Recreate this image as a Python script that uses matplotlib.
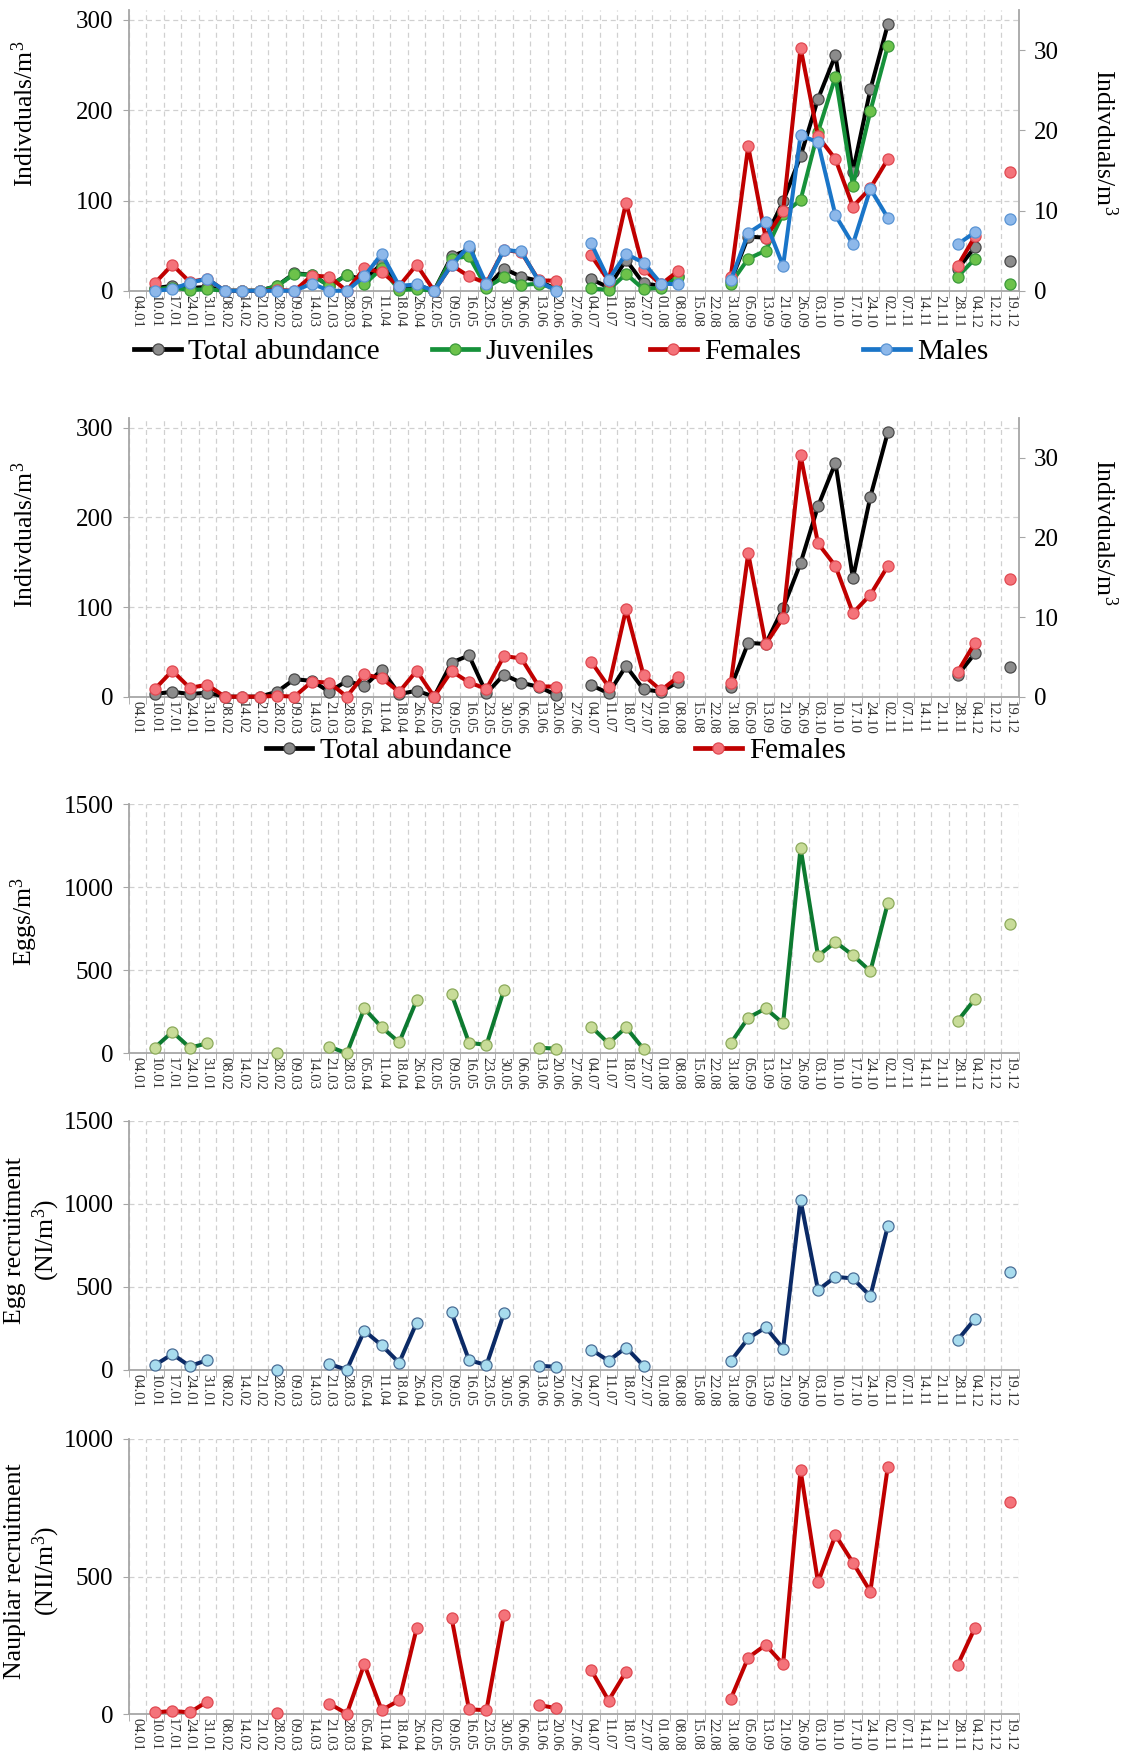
import numpy as np
import matplotlib
matplotlib.use('Agg')
import matplotlib.pyplot as plt
from matplotlib.lines import Line2D
from matplotlib.ticker import FixedLocator

plt.rcParams['font.family'] = ['Liberation Serif', 'DejaVu Serif']
plt.rcParams['mathtext.fontset'] = 'custom'
plt.rcParams['mathtext.rm'] = 'Liberation Serif'
plt.rcParams['mathtext.it'] = 'Liberation Serif:italic'

N = np.nan
dates = ["04.01", "10.01", "17.01", "24.01", "31.01", "08.02", "14.02", "21.02", "28.02",
         "09.03", "14.03", "21.03", "28.03", "05.04", "11.04", "18.04", "26.04", "02.05",
         "09.05", "16.05", "23.05", "30.05", "06.06", "13.06", "20.06", "27.06", "04.07",
         "11.07", "18.07", "27.07", "01.08", "08.08", "15.08", "22.08", "31.08", "05.09",
         "13.09", "21.09", "26.09", "03.10", "10.10", "17.10", "24.10", "02.11", "07.11",
         "14.11", "21.11", "28.11", "04.12", "12.12", "19.12"]

# Individuals/m3 (left axis)
total = [N, 2.9, 5.5, 2.9, 4.4, 0, 0, 0, 5.5, 19.5, 17.6, 5.5, 17.6, 11.8, 30, 2.9, 6.6, 0,
         38, 46, 3.7, 24.6, 15.4, 11, 1.8, N, 12.9, 3.7, 34.2, 8.1, 5.5, 16.5, N, N,
         10.3, 60, 58.8, 99, 149, 212.5, 261, 132, 223, 295, N, N, N, 24, 48.5, N, 33]
# Individuals/m3 (right axis)
juveniles = [N, 0.2, 0.4, 0.1, 0.2, 0, 0, 0, 0.6, 2.1, 1.95, 0.6, 1.95, 0.8, 2.8, 0.1, 0.2, 0,
             4.0, 4.3, 0.4, 1.7, 0.7, 0.9, 0.2, N, 0.3, 0.1, 2.1, 0.2, 0.4, 1.7, N, N,
             0.9, 4.0, 5.0, 9.6, 11.3, 19.8, 26.7, 13.1, 22.4, 30.5, N, N, N, 1.75, 4.0, N, 0.9]
females = [N, 0.96, 3.25, 1.1, 1.5, 0, 0, 0, 0.1, 0, 1.9, 1.75, 0, 2.8, 2.3, 0.6, 3.25, 0,
           3.2, 1.8, 0.96, 5.1, 4.8, 1.3, 1.25, N, 4.4, 1.25, 11.0, 2.7, 0.8, 2.5, N, N,
           1.7, 18.0, 6.6, 9.9, 30.3, 19.25, 16.4, 10.5, 12.8, 16.4, N, N, N, 3.1, 6.8, N, 14.8]
males = [N, 0, 0.2, 1.0, 1.5, 0, 0, 0, 0, 0, 0.9, 0, 0, 1.8, 4.6, 0.6, 0.8, 0,
         3.2, 5.6, 0.8, 5.1, 4.9, 1.2, 0, N, 5.9, 1.4, 4.6, 3.5, 0.9, 0.8, N, N,
         1.3, 7.2, 8.6, 3.1, 19.4, 18.5, 9.4, 5.8, 12.7, 9.1, N, N, N, 5.8, 7.3, N, 8.9]
eggs = [N, 34, 130, 34, 60, N, N, N, 0, N, N, 40, 0, 270, 156, 66, 320, N,
        356, 64, 50, 380, N, 34, 28, N, 160, 60, 156, 26, N, N, N, N,
        60, 214, 270, 180, 1236, 586, 670, 590, 494, 904, N, N, N, 194, 328, N, 776]
egg_recr = [N, 28, 94, 22, 58, N, N, N, 0, N, N, 34, 0, 235, 147, 42, 283, N,
            345, 58, 28, 339, N, 24, 18, N, 122, 54, 134, 24, N, N, N, N,
            52, 189, 255, 128, 1022, 480, 560, 550, 444, 865, N, N, N, 179, 307, N, 588]
naup_recr = [N, 7, 12, 7, 46, N, N, N, 4, N, N, 39, 2, 182, 15, 51, 312, N,
             351, 18, 15, 361, N, 34, 22, N, 161, 50, 155, N, N, N, N, N,
             56, 206, 252, 182, 887, 479, 651, 551, 446, 900, N, N, N, 179, 315, N, 770]

x = np.arange(len(dates))

styles = {
    'total': dict(color='#000000', mfc='#8c8c8c', mec='#4a4a4a'),
    'juv': dict(color='#16913a', mfc='#6cc24a', mec='#3c9a3c'),
    'fem': dict(color='#c00000', mfc='#f4737a', mec='#e04a52'),
    'male': dict(color='#1a75c8', mfc='#8db8ea', mec='#5a94d4'),
    'eggs': dict(color='#0d7a30', mfc='#c8dc98', mec='#8caa5c'),
    'eggr': dict(color='#0b2a66', mfc='#a8dcee', mec='#4a6e96'),
    'naup': dict(color='#c00000', mfc='#f4737a', mec='#e04a52'),
}
LW = 2.9
MS = 8
MEW = 0.9
SPINE = '#a6a6a6'
GRID = '#d0d0d0'
TICKFS = 18
LABFS = 18.5

fig = plt.figure(figsize=(11.31, 17.57), dpi=100)
L, W = 0.1138, 0.7869
boxes = [(0.8345, 0.1598), (0.6035, 0.1586), (0.4005, 0.1419), (0.2204, 0.1417), (0.0243, 0.1567)]


def base_axes(box, ymax, yticks):
    ax = fig.add_axes([L, box[0], W, box[1]])
    ax.set_xlim(-0.5, 50.5)
    ax.set_ylim(0, ymax)
    ax.set_yticks(yticks)
    ax.xaxis.set_major_locator(FixedLocator(x))
    ax.set_xticklabels(dates, rotation=270, fontsize=10.5, color='#303030')
    ax.xaxis.set_minor_locator(FixedLocator(np.arange(-0.5, 51, 1.0)))
    ax.tick_params(axis='x', which='major', length=0, pad=3)
    ax.tick_params(axis='x', which='minor', length=5, direction='out', color=SPINE)
    ax.tick_params(axis='y', length=4, direction='out', color=SPINE, labelsize=TICKFS, pad=7)
    ax.grid(True, axis='y', which='major', color=GRID, linestyle=(0, (4, 3)), lw=0.9)
    ax.grid(True, axis='x', which='minor', color=GRID, linestyle=(0, (4, 3)), lw=0.9)
    for s in ['top', 'right']:
        ax.spines[s].set_visible(False)
    for s in ['left', 'bottom']:
        ax.spines[s].set_color(SPINE)
        ax.spines[s].set_linewidth(1.3)
    ax.set_axisbelow(True)
    return ax


def plot_series(ax, y, key, z=3):
    st = styles[key]
    ax.plot(x, y, '-o', lw=LW, ms=MS, mew=MEW, zorder=z, clip_on=False, **st)


def add_twin(ax, ypos):
    ax2 = ax.twinx()
    ax2.set_ylim(0, 35)
    ax2.set_yticks([0, 10, 20, 30])
    ax2.tick_params(axis='y', length=4, direction='out', color=SPINE, labelsize=TICKFS, pad=7)
    for s in ['top', 'left', 'bottom']:
        ax2.spines[s].set_visible(False)
    ax2.spines['right'].set_color(SPINE)
    ax2.spines['right'].set_linewidth(1.3)
    ax2.set_ylabel('Indivduals/m$^\\mathrm{3}$', rotation=270, fontsize=LABFS,
                   ha='center', va='center')
    ax2.yaxis.set_label_coords(1.096, ypos)
    return ax2


def ylab(ax, text, xc, yc=0.5):
    ax.set_ylabel(text, fontsize=LABFS, ha='center', va='center', multialignment='center')
    ax.yaxis.set_label_coords(xc, yc)


def leg(entries, xs, y):
    for (key, label), xf in zip(entries, xs):
        h = Line2D([], [], marker='o', lw=LW + 0.5, ms=MS, mew=MEW, **styles[key])
        fig.legend([h], [label], loc='center left', bbox_to_anchor=(xf, y),
                   frameon=False, fontsize=21, handlelength=1.6, handletextpad=0.25,
                   borderpad=0, borderaxespad=0)


LEFTMAX = 311

# Panel 1
ax1 = base_axes(boxes[0], LEFTMAX, [0, 100, 200, 300])
plot_series(ax1, total, 'total')
ax1b = add_twin(ax1, 0.53)
plot_series(ax1b, juveniles, 'juv', 3)
plot_series(ax1b, females, 'fem', 4)
plot_series(ax1b, males, 'male', 5)
ylab(ax1, 'Indivduals/m$^\\mathrm{3}$', -0.117, 0.63)
leg([('total', 'Total abundance'), ('juv', 'Juveniles'), ('fem', 'Females'), ('male', 'Males')],
    [0.1189, 0.3816, 0.5747, 0.763], 0.7997)

# Panel 2
ax2 = base_axes(boxes[1], LEFTMAX, [0, 100, 200, 300])
plot_series(ax2, total, 'total')
ax2b = add_twin(ax2, 0.59)
plot_series(ax2b, females, 'fem', 4)
ylab(ax2, 'Indivduals/m$^\\mathrm{3}$', -0.117, 0.58)
leg([('total', 'Total abundance'), ('fem', 'Females')], [0.2349, 0.6145], 0.5726)

# Panel 3
ax3 = base_axes(boxes[2], 1500, [0, 500, 1000, 1500])
plot_series(ax3, eggs, 'eggs')
ylab(ax3, 'Eggs/m$^\\mathrm{3}$', -0.117, 0.53)

# Panel 4
ax4 = base_axes(boxes[3], 1500, [0, 500, 1000, 1500])
plot_series(ax4, egg_recr, 'eggr')
ylab(ax4, 'Egg recruitment\n(NI/m$^\\mathrm{3}$)', -0.108, 0.52)

# Panel 5
ax5 = base_axes(boxes[4], 1000, [0, 500, 1000])
plot_series(ax5, naup_recr, 'naup')
ylab(ax5, 'Naupliar recruitment\n(NII/m$^\\mathrm{3}$)', -0.108, 0.52)

fig.savefig('out.png', dpi=100)
